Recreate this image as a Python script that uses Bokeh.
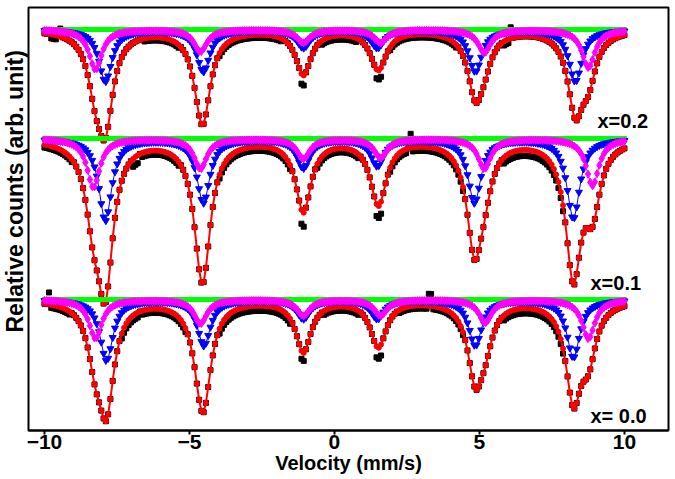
import numpy as np
from bokeh.plotting import figure
from bokeh.models import Range1d, FixedTicker, Label, Title
from bokeh.embed import file_html
from bokeh.resources import INLINE

# ---------------- data ----------------
# velocity channels, mm/s
v_first, v_last, n_channels = -10.0, 10.0, 256

sample_labels = ["x=0.2", "x=0.1", "x= 0.0"]
baselines = [401, 292, 131]          # relative counts (arb.), one offset per spectrum

# sextet A (blue) and sextet B (magenta) line positions, mm/s
pos_a_02 = [-7.90, -4.52, -1.07, 1.48, 4.86, 8.31]
pos_b_02 = [-8.24, -4.62, -1.07, 1.59, 5.17, 8.76]
pos_a_01 = [-7.90, -4.52, -1.07, 1.48, 4.83, 8.24]
pos_b_01 = [-8.31, -4.62, -1.07, 1.59, 5.17, 8.90]
pos_a_00 = [-7.86, -4.50, -1.07, 1.48, 4.86, 8.24]
pos_b_00 = [-8.24, -4.62, -1.07, 1.59, 5.20, 8.76]

# depths of the plotted sub-spectra (blue = A, magenta = B)
comp_a_02 = [52, 42, 18, 18, 42, 52]
comp_b_02 = [40, 22, 13, 13, 23, 38]
comp_a_01 = [82, 64, 29, 27, 64, 80]
comp_b_01 = [49, 30, 20, 19, 30, 47]
comp_a_00 = [61, 46, 19, 19, 46, 58]
comp_b_00 = [39, 24, 16, 16, 23, 39]

# depths of the total fit (red) at the A and B positions
fit_a_02 = [88, 64, 29, 27, 60, 76]
fit_b_02 = [44, 32, 15, 13, 22, 40]
fit_a_01 = [140, 98, 46, 44, 104, 133]
fit_b_01 = [62, 48, 25, 22, 32, 62]
fit_a_00 = [100, 75, 33, 32, 73, 94]
fit_b_00 = [47, 40, 18, 15, 31, 49]

# half widths (mm/s)
hw_comp = 0.27
hw_fit = 0.32

# measured points (black): deviation from the fit over velocity ranges (+ = lower)
dev_from_02 = [-9.80, -9.52, -6.60, -4.00, -1.20, -0.50, 1.38, 1.90, 5.80, 6.02]
dev_to_02   = [-9.55, -9.44, -5.30, -1.80, -1.00, 0.80, 1.62, 4.20, 6.00, 6.10]
dev_dy_02   = [4, -8, 3, 3, 10, 4, 9, 3, 4, -11]

dev_from_01 = [-10.0, -7.00, -6.70, -4.00, -1.20, -0.60, 1.38, 1.90, 2.55, 2.70, 5.80]
dev_to_01   = [-9.00, -6.75, -5.30, -1.50, -1.00, 0.90, 1.62, 2.50, 2.65, 4.50, 7.90]
dev_dy_01   = [3, 8, 4, 4, 14, 4, 12, 4, -14, 4, 6]

dev_from_00 = [-9.90, -9.80, -7.40, -6.70, -4.00, -1.20, -0.40, 1.38, 2.20, 3.25, 3.40, 5.80]
dev_to_00   = [-9.82, -9.10, -6.75, -5.10, -1.50, -1.00, 0.90, 1.62, 3.20, 3.35, 4.50, 7.90]
dev_dy_00   = [-12, 3, 5, 4, 5, 8, 4, 11, 3, -12, 3, 5]

spectra = [
    (pos_a_02, pos_b_02, comp_a_02, comp_b_02, fit_a_02, fit_b_02, dev_from_02, dev_to_02, dev_dy_02),
    (pos_a_01, pos_b_01, comp_a_01, comp_b_01, fit_a_01, fit_b_01, dev_from_01, dev_to_01, dev_dy_01),
    (pos_a_00, pos_b_00, comp_a_00, comp_b_00, fit_a_00, fit_b_00, dev_from_00, dev_to_00, dev_dy_00),
]

# ---------------- helpers ----------------
v = np.linspace(v_first, v_last, n_channels)


def lorentz_sum(pos, depth, hw):
    out = np.zeros_like(v)
    for p0, d in zip(pos, depth):
        out += d / (1.0 + ((v - p0) / hw) ** 2)
    return out


FONT = "Liberation Sans"

p = figure(width=675, height=479, output_backend="svg", toolbar_location=None,
           x_range=Range1d(-10.55, 11.52), y_range=Range1d(0, 423),
           min_border_left=28, min_border_right=7, min_border_top=7, min_border_bottom=49)
p.background_fill_color = "white"
p.border_fill_color = "white"
p.outline_line_color = "black"
p.outline_line_width = 2
p.grid.visible = False
p.yaxis.visible = False

xa = p.xaxis[0]
xa.ticker = FixedTicker(ticks=[-10, -5, 0, 5, 10])
xa.minor_tick_line_color = None
xa.major_tick_in = 0
xa.major_tick_out = 4
xa.major_tick_line_width = 2
xa.axis_line_width = 2
xa.major_label_standoff = 0
xa.major_label_text_font = FONT
xa.major_label_text_font_style = "bold"
xa.major_label_text_font_size = "21px"
xa.major_label_text_color = "black"
xa.axis_label = "Velocity (mm/s)"
xa.axis_label_text_font = FONT
xa.axis_label_text_font_style = "bold"
xa.axis_label_text_font_size = "20px"
xa.axis_label_text_color = "black"
xa.axis_label_standoff = 0

for base, (pa, pb, ca, cb, fa, fb, d0, d1, ddy) in zip(baselines, spectra):
    blue = base - lorentz_sum(pa, ca, hw_comp)
    magenta = base - lorentz_sum(pb, cb, hw_comp)
    red = base - lorentz_sum(pa, fa, hw_fit) - lorentz_sum(pb, fb, hw_fit)
    black = red.copy()
    for a, b, dy in zip(d0, d1, ddy):
        m = (v >= a) & (v <= b)
        black[m] -= dy
    green = np.full_like(v, base, dtype=float)

    p.scatter(v, black, marker="square", size=5, color="black")
    p.line(v, green, line_color="#00FF00", line_width=4)
    p.scatter(v, green, marker="square", size=4, color="#00FF00")
    p.line(v, red, line_color="#FF0000", line_width=2)
    p.scatter(v, red, marker="circle", size=5, color="#FF0000")
    p.line(v, blue, line_color="#0000FF", line_width=1)
    p.scatter(v, blue, marker="inverted_triangle", size=7, color="#0000FF")
    p.line(v, magenta, line_color="#FF00FF", line_width=1)
    p.scatter(v, magenta, marker="diamond", size=8, color="#FF00FF")

# sample labels
label_x = [9.07, 8.83, 8.83]
label_y = [310, 148, 15]
for t, lx, ly in zip(sample_labels, label_x, label_y):
    p.add_layout(Label(x=lx, y=ly, text=t, text_font=FONT, text_font_style="bold",
                       text_font_size="20px", text_color="black", text_baseline="alphabetic"))

# y-axis title
p.add_layout(Title(text="Relative counts (arb. unit)", align="left", offset=98, standoff=0,
                   vertical_align="middle", text_font=FONT, text_font_style="bold",
                   text_font_size="23px", text_color="black"), "left")

open("out.html", "w").write(file_html(p, INLINE))
